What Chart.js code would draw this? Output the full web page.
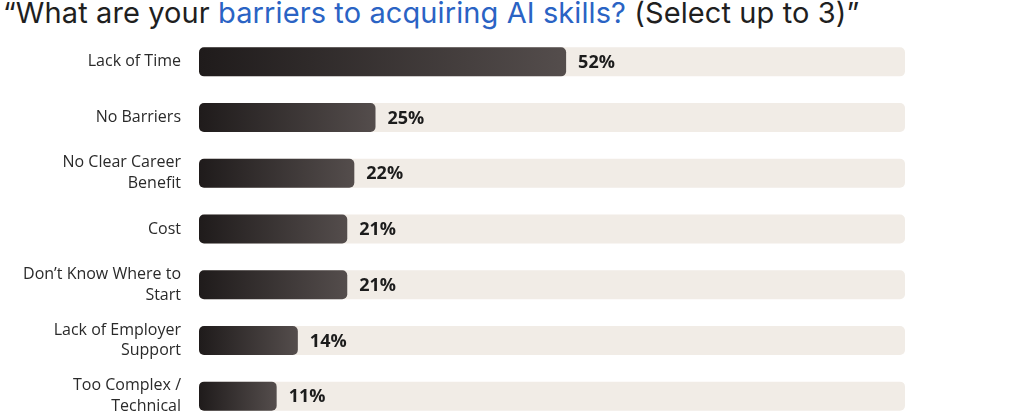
<!DOCTYPE html>
<html>
<head>
<meta charset="utf-8">
<script src="https://cdn.jsdelivr.net/npm/chart.js@4.4.1/dist/chart.umd.min.js"></script>
<style>
  html, body { margin: 0; padding: 0; background: #fff; overflow: hidden; }
  body { width: 1024px; height: 414px; position: relative; }
  #title {
    position: absolute; left: 3px; top: -5px;
    font-family: Inter, "Noto Sans", sans-serif; font-size: 29px;
    color: #1f1f1f; white-space: nowrap; letter-spacing: 0.1px;
  }
  #title .hl { color: #2a63c4; }
  #wrap { position: absolute; left: 0; top: 0; width: 1024px; height: 424px; }
</style>
</head>
<body>
<div id="title">“What are your <span class="hl">barriers to acquiring AI skills?</span> (Select up to 3)”</div>
<div id="wrap"><canvas id="chart"></canvas></div>
<script>
var categories = [
  "Lack of Time",
  "No Barriers",
  ["No Clear Career", "Benefit"],
  "Cost",
  ["Don’t Know Where to", "Start"],
  ["Lack of Employer", "Support"],
  ["Too Complex /", "Technical"],
];
var shares = [52, 25, 22, 21, 21, 14, 11];
var trackValues = [100, 100, 100, 100, 100, 100, 100];

function barGradient(context) {
  var chart = context.chart;
  var area = chart.chartArea;
  if (!area) return "#2b2727";
  var x = chart.scales.x;
  var x0 = x.getPixelForValue(0);
  var x1 = x.getPixelForValue(context.raw);
  var g = chart.ctx.createLinearGradient(x0, 0, x1, 0);
  g.addColorStop(0, "#1f1b1b");
  g.addColorStop(1, "#544d4c");
  return g;
}

var valueLabels = {
  id: "valueLabels",
  afterDatasetsDraw(chart) {
    var ctx = chart.ctx;
    var meta = chart.getDatasetMeta(0);
    ctx.save();
    ctx.font = "bold 18px 'Open Sans', sans-serif";
    ctx.fillStyle = "#1c1c1c";
    ctx.textBaseline = "middle";
    ctx.textAlign = "left";
    meta.data.forEach((bar, i) => {
      ctx.fillText(shares[i] + "%", bar.x + 12, bar.y + 1);
    });
    ctx.restore();
  },
};

new Chart(document.getElementById("chart"), {
  type: "bar",
  data: {
    labels: categories,
    datasets: [
      {
        data: shares,
        backgroundColor: barGradient,
        borderRadius: 5,
        borderSkipped: false,
        grouped: false,
        order: 0,
        barPercentage: 0.52,
        categoryPercentage: 1,
      },
      {
        data: trackValues,
        backgroundColor: "#f1ece6",
        borderRadius: 5,
        borderSkipped: false,
        grouped: false,
        order: 1,
        barPercentage: 0.52,
        categoryPercentage: 1,
      },
    ],
  },
  options: {
    indexAxis: "y",
    responsive: true,
    maintainAspectRatio: false,
    animation: false,
    layout: {
      padding: { top: 34, right: 119, bottom: 0, left: 0 },
    },
    plugins: {
      legend: { display: false },
      tooltip: { enabled: false },
    },
    scales: {
      x: {
        display: false,
        min: 0,
        max: 100,
      },
      y: {
        grid: { display: false, drawTicks: false },
        border: { display: false },
        afterFit: function (scale) {
          scale.width = 199;
          scale.paddingTop = 0;
          scale.paddingBottom = 0;
        },
        ticks: {
          color: "#2a2a2a",
          padding: 18,
          font: { family: "'Open Sans'", size: 16, lineHeight: 1.3 },
        },
      },
    },
  },
  plugins: [valueLabels],
});
</script>
</body>
</html>
